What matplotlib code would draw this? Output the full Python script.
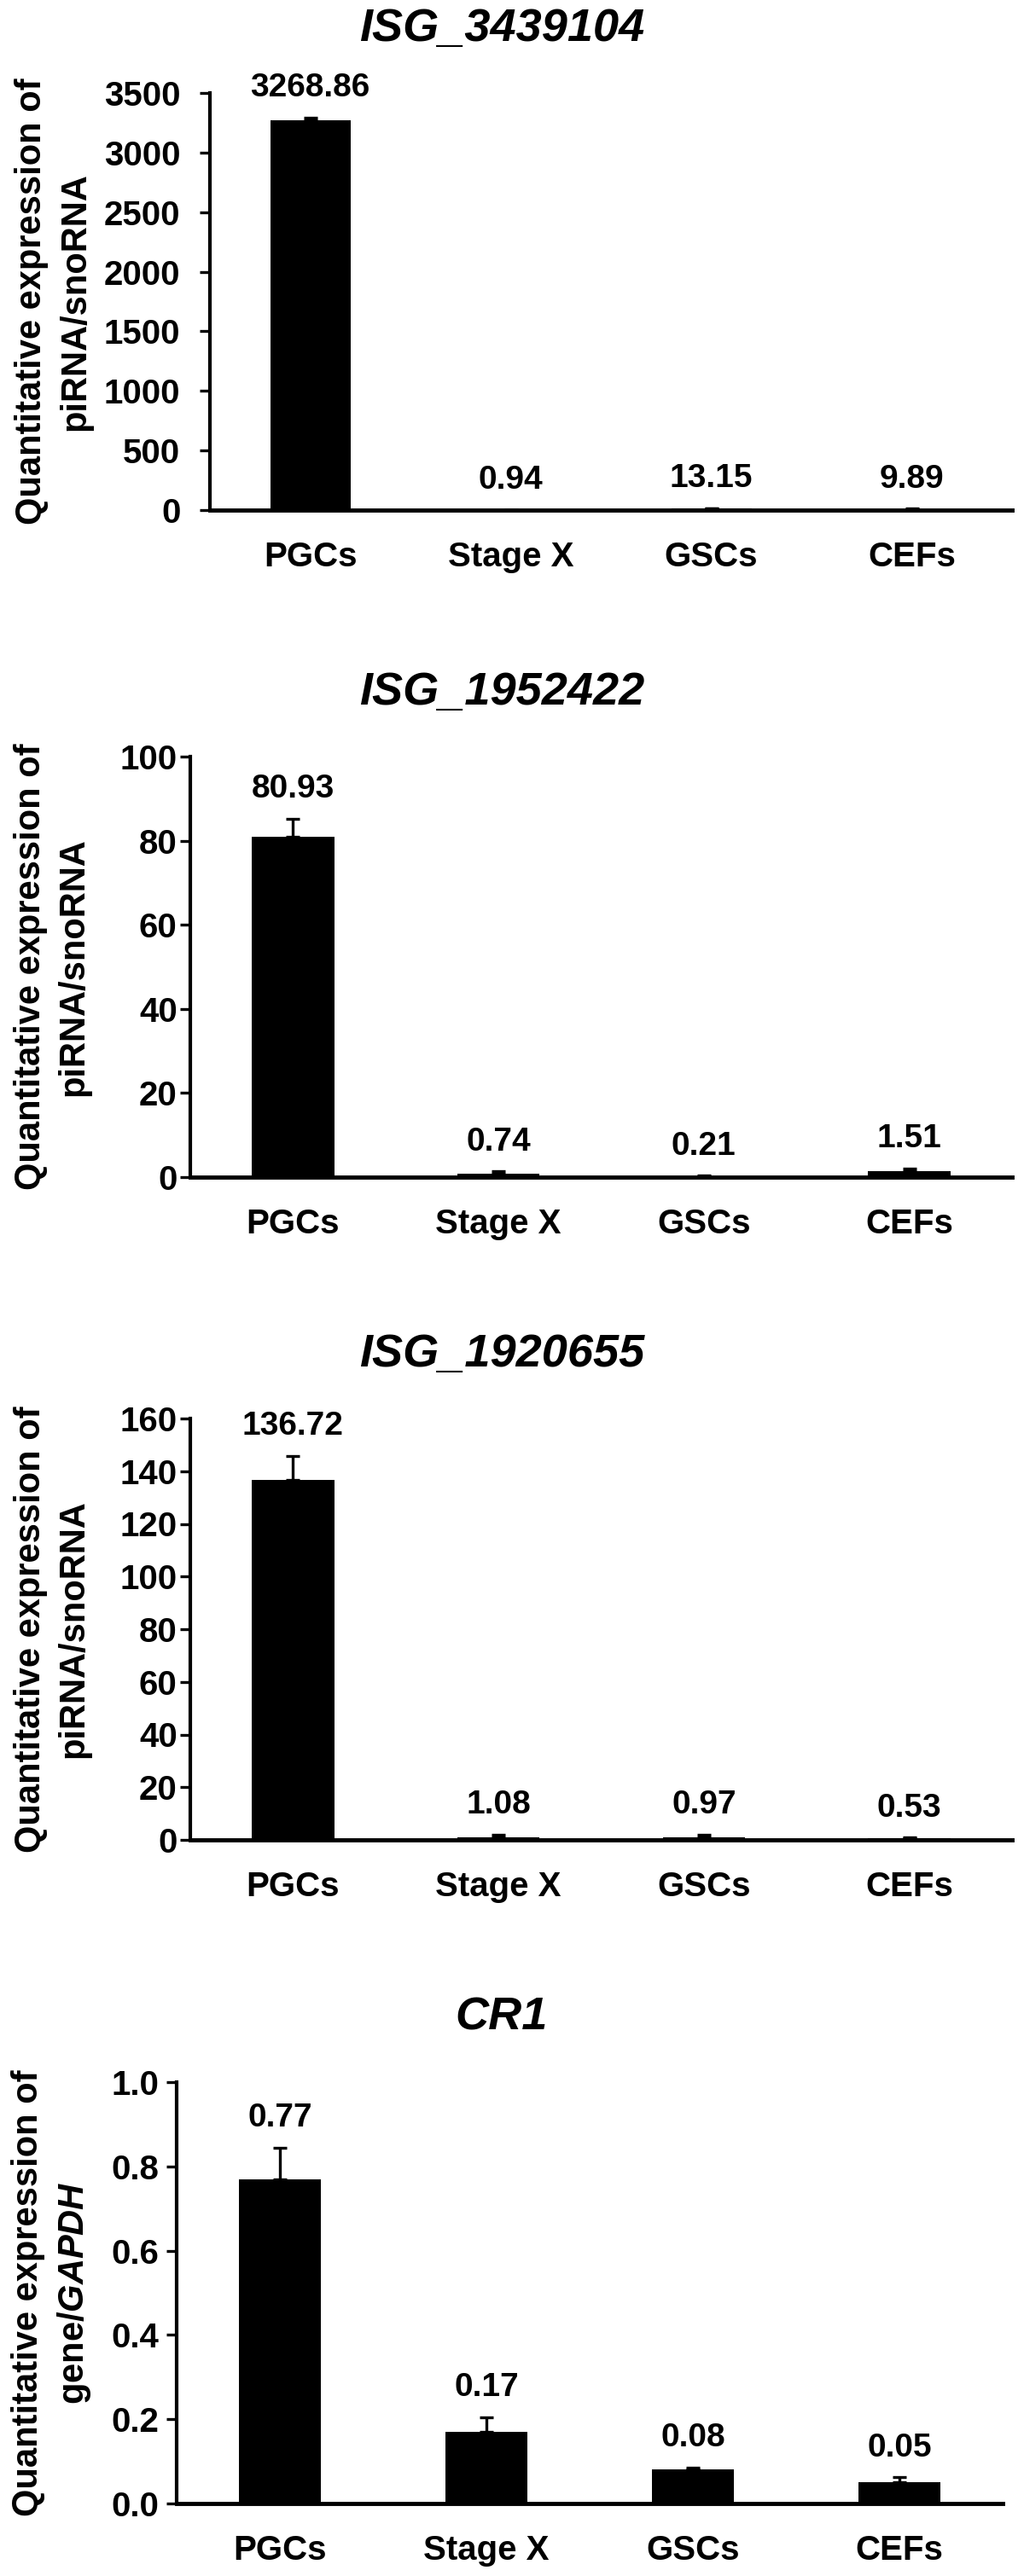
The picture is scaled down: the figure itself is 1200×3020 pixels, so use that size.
import matplotlib.pyplot as plt
import numpy as np

plt.rcParams['font.family'] = ['Liberation Sans', 'DejaVu Sans']
plt.rcParams['font.weight'] = 'bold'
plt.rcParams['mathtext.fontset'] = 'custom'
plt.rcParams['mathtext.it'] = 'Liberation Sans:italic:bold'
plt.rcParams['mathtext.rm'] = 'Liberation Sans:bold'

groups = ['PGCs', 'Stage X', 'GSCs', 'CEFs']
titles = ['ISG_3439104', 'ISG_1952422', 'ISG_1920655', 'CR1']

vals_3439104 = [3268.86, 0.94, 13.15, 9.89]
err_3439104 = [25, 1, 3, 2]
vals_1952422 = [80.93, 0.74, 0.21, 1.51]
err_1952422 = [4.3, 0.6, 0.1, 0.5]
vals_1920655 = [136.72, 1.08, 0.97, 0.53]
err_1920655 = [9.0, 1.0, 1.0, 0.3]
vals_cr1 = [0.77, 0.17, 0.08, 0.05]
err_cr1 = [0.075, 0.035, 0.006, 0.012]

yticks_list = [np.arange(0, 3501, 500), np.arange(0, 101, 20),
               np.arange(0, 161, 20), np.arange(0, 1.01, 0.2)]
ylabels = ['Quantitative expression of\npiRNA/snoRNA'] * 3 + \
          ['Quantitative expression of\ngene/$\\mathit{GAPDH}$']

all_vals = [vals_3439104, vals_1952422, vals_1920655, vals_cr1]
all_errs = [err_3439104, err_1952422, err_1920655, err_cr1]

H = 3020
# axes placement in pixels: left, right, top, zero line
boxes = [(246, 1186, 109, 598), (223, 1186, 887, 1380),
         (223, 1186, 1663, 2157), (207, 1175, 2441, 2935)]
ylab_x = [-0.195, -0.168, -0.168, -0.151]
tick_pads = [16, 2, 2, 6]

fig = plt.figure(figsize=(12, 30.2), dpi=100)
x = np.arange(len(groups))

for i in range(4):
    l, r, t, z = boxes[i]
    ax = fig.add_axes([l / 1200, 1 - z / H, (r - l) / 1200, (z - t) / H])
    vals = np.array(all_vals[i])
    errs = np.array(all_errs[i])
    ax.bar(x, vals, width=0.4, color='black', zorder=2)
    ax.errorbar(x, vals, yerr=[np.zeros_like(errs), errs], fmt='none',
                ecolor='black', elinewidth=2.4, capsize=5.5, capthick=2.4, zorder=3)
    for xi, v, e in zip(x, vals, errs):
        ax.annotate(f'{v:.2f}', (xi, v + e), xytext=(0, 12), textcoords='offset points',
                    ha='center', va='bottom', fontsize=28, fontweight='bold')
    yt = yticks_list[i]
    ax.set_ylim(0, yt[-1])
    ax.set_xlim(-0.5, 3.5)
    ax.set_yticks(yt)
    if i == 3:
        ax.set_yticklabels([f'{v:.1f}' for v in yt])
    ax.set_xticks(x)
    ax.set_xticklabels(groups)
    ax.tick_params(axis='y', length=9, width=2.4, labelsize=29, pad=tick_pads[i])
    ax.tick_params(axis='x', length=0, labelsize=29, pad=26)
    for s in ['top', 'right']:
        ax.spines[s].set_visible(False)
    ax.spines['left'].set_linewidth(3)
    ax.spines['bottom'].set_linewidth(3.5)
    ax.text(ylab_x[i], 0.5, ylabels[i], transform=ax.transAxes, rotation=90,
            ha='center', va='center', multialignment='center',
            fontsize=30, fontweight='bold', linespacing=1.35)
    fig.text(0.49, 1 - (t - 75) / H, titles[i], ha='center', va='center',
             fontsize=39, fontweight='bold', fontstyle='italic')

plt.savefig('out.png', dpi=100)
